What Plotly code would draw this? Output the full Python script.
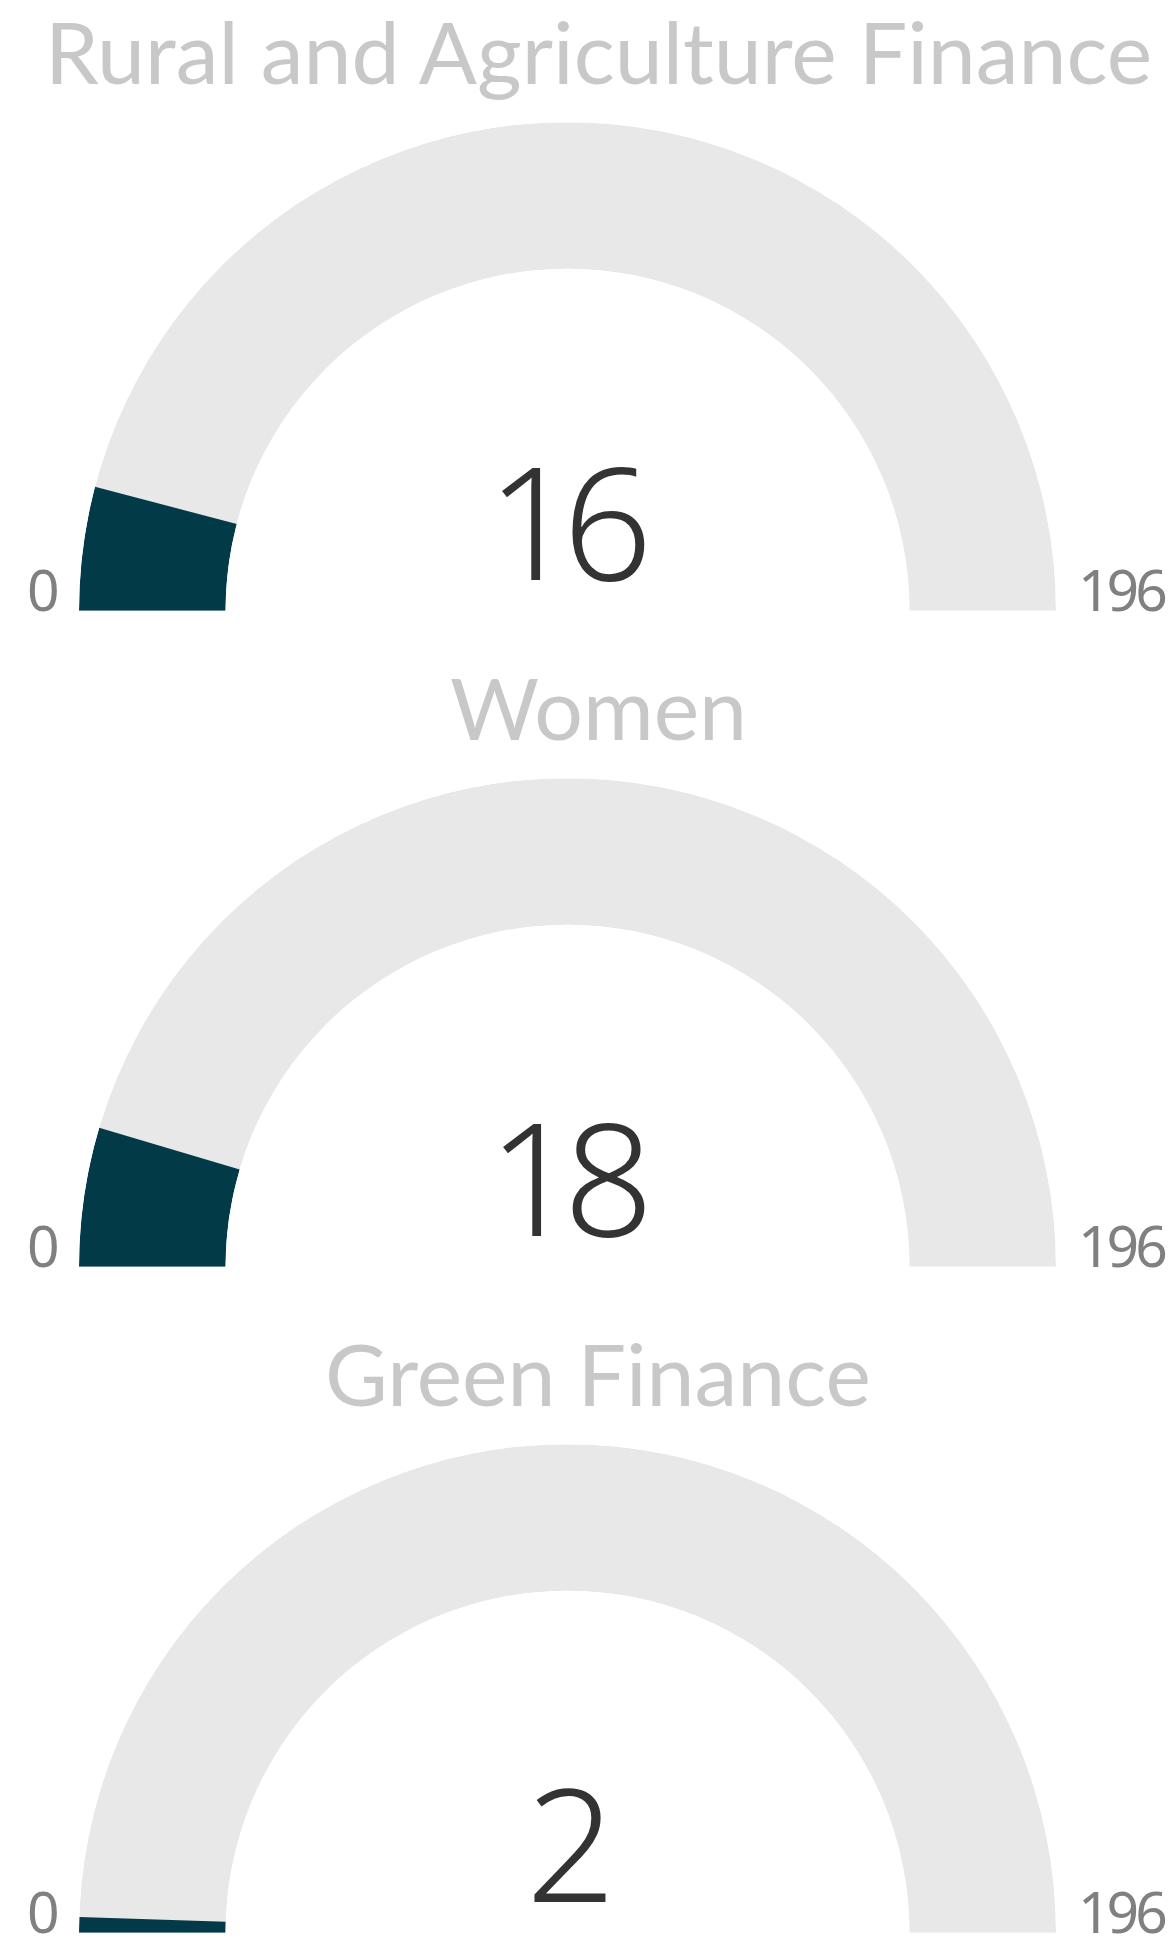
import plotly.graph_objects as go

# ---- data ----
titles = ["Rural and Agriculture Finance", "Women", "Green Finance"]
values = [16, 18, 2]
gauge_min = [0, 0, 0]
gauge_max = [196, 196, 196]

# ---- styling / layout ----
OFF = 8                      # default body margin of the html page
PAGE_W, PAGE_H = 1174, 1938
W, H = PAGE_W - OFF, PAGE_H - OFF
TRACK = "#e8e8e8"
FILL = "#023a47"
TITLE_C = "#c8c8c8"
NUM_C = "#333333"
LBL_C = "#808080"

cx = 567.5          # gauge centre x (page px)
R = 488.5           # outer radius (px)
baselines = [610.7, 1266.7, 1932.7]   # gauge baseline y (page px from top)
title_x = 598.0
title_size = 86
num_size = 157
lbl_size = 57


def py(y):  # page px from top -> paper
    return 1 - (y - OFF) / H


def px(x):
    return (x - OFF) / W


def tight(s, ls):
    return f'<span style="letter-spacing:{ls}px">{s}</span>'


fig = go.Figure()
for i, (t, v, mn, mx, base) in enumerate(zip(titles, values, gauge_min, gauge_max, baselines)):
    sub = "polar" if i == 0 else f"polar{i + 1}"
    span = 180.0
    fig.add_trace(go.Barpolar(
        r=[1], theta=[span / 2], width=[span], base=0,
        marker=dict(color=TRACK, line=dict(width=0)),
        subplot=sub, hoverinfo="skip", showlegend=False))
    ang = (v - mn) / (mx - mn) * span
    fig.add_trace(go.Barpolar(
        r=[1], theta=[ang / 2], width=[ang], base=0,
        marker=dict(color=FILL, line=dict(width=0)),
        subplot=sub, name=t, hovertemplate=f"{t}: {v}<extra></extra>",
        showlegend=False))
    fig.update_layout({sub: dict(
        domain=dict(x=[px(cx - R), px(cx + R)], y=[py(base), py(base - R)]),
        sector=[0, 180], hole=0.70, bgcolor="rgba(0,0,0,0)",
        radialaxis=dict(visible=False, range=[0, 1]),
        angularaxis=dict(visible=False, direction="clockwise", rotation=180),
    )})
    # title
    fig.add_annotation(x=px(title_x), y=py(base - 527.4 - 0.387 * title_size),
                       xref="paper", yref="paper", text=t, showarrow=False,
                       xanchor="center", yanchor="middle",
                       font=dict(family="Lato, Open Sans", size=title_size, color=TITLE_C))
    # value
    fig.add_annotation(x=px(cx - 1.5), y=py(base - 30.7 - 0.388 * num_size),
                       xref="paper", yref="paper", text=tight(v, -14), showarrow=False,
                       xanchor="center", yanchor="middle",
                       font=dict(family="Noto Sans", size=num_size, color=NUM_C, weight=300))
    # min / max labels
    fig.add_annotation(x=px(43), y=py(base - 0.388 * lbl_size),
                       xref="paper", yref="paper", text=str(mn), showarrow=False,
                       xanchor="center", yanchor="middle",
                       font=dict(family="Noto Sans", size=lbl_size, color=LBL_C))
    fig.add_annotation(x=px(1167), y=py(base - 0.388 * lbl_size),
                       xref="paper", yref="paper", text=tight(mx, -4), showarrow=False,
                       xanchor="right", yanchor="middle",
                       font=dict(family="Noto Sans", size=lbl_size, color=LBL_C))

fig.update_layout(width=W, height=H, margin=dict(l=0, r=0, t=0, b=0),
                  paper_bgcolor="white", plot_bgcolor="white", showlegend=False)

fig.write_html("out.html")
